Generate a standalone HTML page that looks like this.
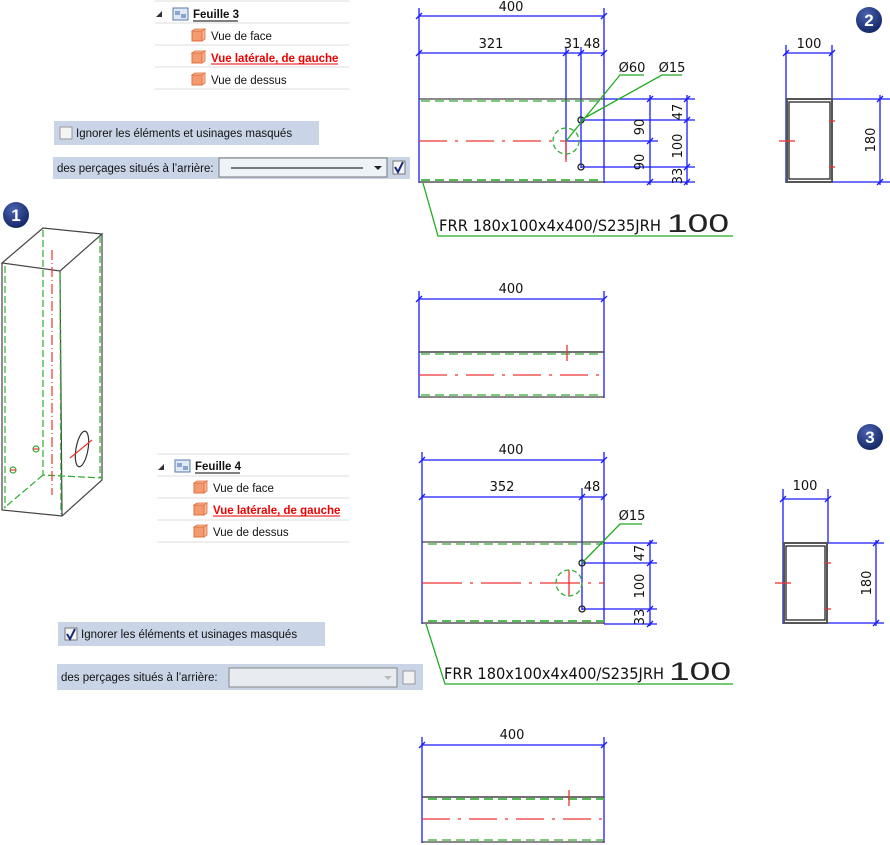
<!DOCTYPE html>
<html><head><meta charset="utf-8"><style>
body{margin:0;width:890px;height:845px;background:#fff;overflow:hidden;position:relative;font-family:"Liberation Sans",sans-serif}
svg{position:absolute;left:0;top:0}
.t{font-family:"DejaVu Sans","Liberation Sans",sans-serif;font-size:12px;fill:#111}
.ui{font-family:"Liberation Sans",sans-serif;font-size:11.5px;fill:#111}
.big{font-family:"Liberation Sans",sans-serif;font-size:25px;fill:#222}
</style></head><body>
<svg width="890" height="845" viewBox="0 0 890 845">
<defs>
<g id="cube"><rect x="0" y="2" width="10" height="10" fill="#f39a70" stroke="#e0703f"/><path d="M0 2 L3 0 L13 0 L10 2 Z M10 2 L13 0 L13 10 L10 12 Z" fill="#f7b898" stroke="#e0703f" stroke-width=".8"/></g>
<g id="sheet"><rect x="0" y="0" width="15" height="12" fill="#dfe8f5" stroke="#5a7aa8"/><rect x="2" y="3" width="5" height="4" fill="#8aa6d0"/><rect x="8" y="6" width="5" height="4" fill="#8aa6d0"/></g>
<radialGradient id="bg" cx=".4" cy=".3" r=".8"><stop offset="0" stop-color="#4a63b0"/><stop offset="1" stop-color="#0d1f5c"/></radialGradient>
</defs>

<!-- Tree Feuille 3 -->
<g stroke="#ddd"><line x1="155" y1="1" x2="349" y2="1"/><line x1="155" y1="23" x2="349" y2="23"/><line x1="155" y1="45" x2="349" y2="45"/><line x1="155" y1="67" x2="349" y2="67"/><line x1="155" y1="89" x2="349" y2="89"/></g>
<path d="M156 17 L162 11 L162 17 Z" fill="#333"/>
<use href="#sheet" x="173" y="8"/>
<text class="ui" x="193" y="18" font-weight="bold">Feuille 3</text><line x1="193" y1="21" x2="238" y2="21" stroke="#000"/>
<use href="#cube" x="192" y="29"/><text class="ui" x="211" y="40">Vue de face</text>
<use href="#cube" x="192" y="51"/><text class="ui" x="211" y="62" style="fill:#e00;font-weight:bold">Vue latérale, de gauche</text><line x1="211" y1="64" x2="338" y2="64" stroke="#e00"/>
<use href="#cube" x="192" y="73"/><text class="ui" x="211" y="84">Vue de dessus</text>

<!-- panels 3 -->
<rect x="54" y="121" width="265" height="24" fill="#c9d5e7"/>
<rect x="60" y="127" width="12" height="12" fill="#f4f4f4" stroke="#999"/>
<text class="ui" x="76" y="137">Ignorer les éléments et usinages masqués</text>
<rect x="53" y="157" width="357" height="22" fill="#c9d5e7"/>
<text class="ui" x="57" y="172">des perçages situés à l’arrière:</text>
<rect x="219" y="158" width="168" height="19" fill="#eef3fa" stroke="#777"/>
<line x1="231" y1="168" x2="363" y2="168" stroke="#000"/>
<path d="M374 166 L382 166 L378 170 Z" fill="#222"/>
<rect x="393" y="161" width="12" height="13" fill="#f4f4f4" stroke="#777"/>
<path d="M395 167 L398 172 L403 162" stroke="#1a2a7a" stroke-width="2" fill="none"/>

<!-- Tree Feuille 4 -->
<g stroke="#ddd"><line x1="157" y1="454" x2="349" y2="454"/><line x1="157" y1="476" x2="349" y2="476"/><line x1="157" y1="498" x2="349" y2="498"/><line x1="157" y1="520" x2="349" y2="520"/><line x1="157" y1="542" x2="349" y2="542"/></g>
<path d="M158 470 L164 464 L164 470 Z" fill="#333"/>
<use href="#sheet" x="175" y="460"/>
<text class="ui" x="195" y="470" font-weight="bold">Feuille 4</text><line x1="195" y1="473" x2="240" y2="473" stroke="#000"/>
<use href="#cube" x="194" y="481"/><text class="ui" x="213" y="492">Vue de face</text>
<use href="#cube" x="194" y="503"/><text class="ui" x="213" y="514" style="fill:#e00;font-weight:bold">Vue latérale, de gauche</text><line x1="213" y1="516" x2="340" y2="516" stroke="#e00"/>
<use href="#cube" x="194" y="525"/><text class="ui" x="213" y="536">Vue de dessus</text>

<!-- panels 4 -->
<rect x="58" y="622" width="267" height="24" fill="#c9d5e7"/>
<rect x="65" y="628" width="12" height="12" fill="#f4f4f4" stroke="#777"/>
<path d="M67 634 L70 639 L75 629" stroke="#1a2a7a" stroke-width="2" fill="none"/>
<text class="ui" x="81" y="638">Ignorer les éléments et usinages masqués</text>
<rect x="57" y="664" width="366" height="26" fill="#c9d5e7"/>
<text class="ui" x="61" y="681">des perçages situés à l’arrière:</text>
<rect x="229" y="668" width="168" height="19" fill="#e8ebef" stroke="#888"/>
<path d="M384 676 L392 676 L388 680 Z" fill="#bbb"/>
<rect x="403" y="671" width="12" height="13" fill="#f2f2f2" stroke="#999"/>

<!-- badges -->
<g font-family="Liberation Sans" font-weight="bold" font-size="17" fill="#fff" text-anchor="middle">
<circle cx="16" cy="215" r="13" fill="url(#bg)"/><text x="16" y="221">1</text>
<circle cx="869" cy="20" r="13" fill="url(#bg)"/><text x="869" y="26">2</text>
<circle cx="870" cy="437" r="13" fill="url(#bg)"/><text x="870" y="443">3</text>
</g>

<!-- 3D box -->
<g fill="none" stroke-width="1.2">
<path d="M2 263 L43 228 L102 234 L60 271 Z M2 263 L2 510 L62 516 L102 480 L102 234 M60 271 L62 516" stroke="#444"/>
<path d="M5 266 L5 508 M43 230 L43 475 L102 478 M43 475 L4 508 M60 273 L61 514 M100 236 L100 478" stroke="#3a3" stroke-dasharray="7,3"/>
<path d="M52 250 L52 495" stroke="#e33" stroke-dasharray="10,3,1,3"/>
<ellipse cx="82" cy="449" rx="6" ry="18" stroke="#333" transform="rotate(10 82 449)"/>
<line x1="70" y1="458" x2="92" y2="440" stroke="#e33"/>
<circle cx="36" cy="449" r="3" stroke="#3a3"/><line x1="33" y1="449" x2="39" y2="449" stroke="#e33"/>
<circle cx="13" cy="470" r="3" stroke="#3a3"/><line x1="10" y1="470" x2="16" y2="470" stroke="#e33"/>
</g>

<!-- Drawing 1 -->
<g fill="none" stroke-width="1.3">
<g stroke="#1a1aff">
<line x1="419" y1="8" x2="419" y2="183"/><line x1="604" y1="8" x2="604" y2="183"/>
<line x1="419" y1="16" x2="604" y2="16"/><line x1="419" y1="53" x2="604" y2="53"/>
<line x1="566" y1="47" x2="566" y2="159"/><line x1="581" y1="47" x2="581" y2="168"/>
<line x1="604" y1="99" x2="695" y2="99"/><line x1="581" y1="120" x2="695" y2="120"/><line x1="566" y1="141" x2="658" y2="141"/><line x1="581" y1="167" x2="695" y2="167"/><line x1="604" y1="182" x2="695" y2="182"/>
<line x1="650" y1="95" x2="650" y2="185"/><line x1="687" y1="95" x2="687" y2="185"/>
<path d="M416 19 L422 13 M601 19 L607 13 M416 56 L422 50 M563 56 L569 50 M578 56 L584 50 M601 56 L607 50 M647 102 L653 96 M647 144 L653 138 M647 185 L653 179 M684 102 L690 96 M684 123 L690 117 M684 170 L690 164 M684 185 L690 179"/>
</g>
<line x1="419" y1="99" x2="604" y2="99" stroke="#444"/>
<line x1="421" y1="101" x2="604" y2="101" stroke="#3a3" stroke-dasharray="9,5"/>
<line x1="419" y1="182" x2="604" y2="182" stroke="#555" stroke-width="1.5"/>
<line x1="421" y1="180" x2="604" y2="180" stroke="#5b5" stroke-width="2" stroke-dasharray="9,5"/>
<line x1="419" y1="141" x2="566" y2="141" stroke="#e33" stroke-dasharray="28,8,3,8"/>
<line x1="566" y1="141" x2="566" y2="162" stroke="#e33"/>
<circle cx="566" cy="141" r="13" stroke="#3a3" stroke-dasharray="5,3"/>
<circle cx="581" cy="120" r="3" stroke="#222"/><circle cx="581" cy="167" r="3" stroke="#222"/>
<path d="M566 141 L620 75 L644 75 M581 120 L662 75 L682 75 M423 183 L438 236 L733 236" stroke="#2a2"/>
</g>
<g class="t" text-anchor="middle" style="font-size:13px">
<text x="511" y="11">400</text><text x="491" y="48">321</text><text x="572" y="48">31</text><text x="592" y="48">48</text>
<text x="632" y="72">Ø60</text><text x="672" y="72">Ø15</text>
<text transform="translate(644 127) rotate(-90)">90</text><text transform="translate(644 162) rotate(-90)">90</text>
<text transform="translate(682 112) rotate(-90)">47</text><text transform="translate(682 146) rotate(-90)">100</text><text transform="translate(682 176) rotate(-90)">33</text>
</g>
<text class="t" x="439" y="231" style="font-size:16px" textLength="222" lengthAdjust="spacingAndGlyphs">FRR 180x100x4x400/S235JRH</text>
<text class="big" x="667" y="232" textLength="62" lengthAdjust="spacingAndGlyphs">100</text>

<!-- Side view 2 -->
<g fill="none" stroke-width="1.3">
<g stroke="#1a1aff"><line x1="786" y1="45" x2="786" y2="183"/><line x1="832" y1="45" x2="832" y2="99"/><line x1="786" y1="53" x2="832" y2="53"/><line x1="832" y1="99" x2="890" y2="99"/><line x1="832" y1="182" x2="890" y2="182"/><line x1="880" y1="95" x2="880" y2="185"/>
<path d="M783 56 L789 50 M829 56 L835 50 M877 102 L883 96 M877 185 L883 179"/></g>
<rect x="787" y="99" width="45" height="83" stroke="#555" stroke-width="2"/>
<rect x="789" y="102" width="41" height="77" stroke="#222"/>
<line x1="779" y1="141" x2="795" y2="141" stroke="#e33"/>
<line x1="829" y1="121" x2="835" y2="121" stroke="#e33"/><line x1="829" y1="167" x2="835" y2="167" stroke="#e33"/>
</g>
<text class="t" x="809" y="48" text-anchor="middle" style="font-size:13px">100</text>
<text class="t" transform="translate(875 140) rotate(-90)" text-anchor="middle" style="font-size:13px">180</text>

<!-- Drawing 3 -->
<g fill="none" stroke-width="1.3">
<g stroke="#1a1aff"><line x1="419" y1="291" x2="419" y2="398"/><line x1="604" y1="291" x2="604" y2="398"/><line x1="419" y1="299" x2="604" y2="299"/><path d="M416 302 L422 296 M601 302 L607 296"/></g>
<line x1="419" y1="352" x2="604" y2="352" stroke="#444" stroke-width="1.5"/>
<line x1="421" y1="354" x2="604" y2="354" stroke="#3a3" stroke-dasharray="9,5"/>
<line x1="419" y1="375" x2="604" y2="375" stroke="#e33" stroke-dasharray="28,8,3,8"/>
<line x1="567" y1="345" x2="567" y2="361" stroke="#e33"/>
<line x1="419" y1="397" x2="604" y2="397" stroke="#444"/>
<line x1="421" y1="395" x2="604" y2="395" stroke="#3a3" stroke-dasharray="9,5"/>
</g>
<text class="t" x="511" y="293" text-anchor="middle" style="font-size:13px">400</text>

<!-- Drawing 4 -->
<g fill="none" stroke-width="1.3">
<g stroke="#1a1aff">
<line x1="422" y1="452" x2="422" y2="624"/><line x1="604" y1="452" x2="604" y2="624"/>
<line x1="422" y1="460" x2="604" y2="460"/><line x1="422" y1="497" x2="604" y2="497"/>
<line x1="582" y1="488" x2="582" y2="610"/>
<line x1="604" y1="543" x2="657" y2="543"/><line x1="582" y1="563" x2="657" y2="563"/><line x1="582" y1="609" x2="657" y2="609"/><line x1="604" y1="624" x2="657" y2="624"/>
<line x1="650" y1="540" x2="650" y2="626"/>
<path d="M419 463 L425 457 M601 463 L607 457 M419 500 L425 494 M579 500 L585 494 M601 500 L607 494 M647 546 L653 540 M647 566 L653 560 M647 612 L653 606 M647 627 L653 621"/>
</g>
<line x1="422" y1="542" x2="604" y2="542" stroke="#444"/>
<line x1="428" y1="544" x2="604" y2="544" stroke="#3a3" stroke-dasharray="9,5"/>
<line x1="422" y1="623" x2="604" y2="623" stroke="#555" stroke-width="1.5"/>
<line x1="428" y1="621" x2="604" y2="621" stroke="#5b5" stroke-width="2" stroke-dasharray="9,5"/>
<line x1="422" y1="583" x2="604" y2="583" stroke="#e33" stroke-dasharray="40,8,3,8"/>
<line x1="569" y1="570" x2="569" y2="596" stroke="#e33"/>
<circle cx="569" cy="583" r="13" stroke="#3a3" stroke-dasharray="5,3"/>
<circle cx="582" cy="563" r="3" stroke="#222"/><circle cx="582" cy="609" r="3" stroke="#222"/>
<path d="M582 563 L620 524 L642 524 M426 624 L445 684 L733 684" stroke="#2a2"/>
</g>
<g class="t" text-anchor="middle" style="font-size:13px">
<text x="511" y="454">400</text><text x="502" y="491">352</text><text x="592" y="491">48</text><text x="632" y="520">Ø15</text>
<text transform="translate(644 553) rotate(-90)">47</text><text transform="translate(644 586) rotate(-90)">100</text><text transform="translate(644 617) rotate(-90)">33</text>
</g>
<text class="t" x="444" y="679" style="font-size:16px" textLength="220" lengthAdjust="spacingAndGlyphs">FRR 180x100x4x400/S235JRH</text>
<text class="big" x="669" y="680" textLength="62" lengthAdjust="spacingAndGlyphs">100</text>

<!-- Side view 3 -->
<g fill="none" stroke-width="1.3">
<g stroke="#1a1aff"><line x1="783" y1="489" x2="783" y2="624"/><line x1="828" y1="489" x2="828" y2="543"/><line x1="783" y1="499" x2="828" y2="499"/><line x1="828" y1="543" x2="884" y2="543"/><line x1="828" y1="623" x2="884" y2="623"/><line x1="876" y1="540" x2="876" y2="626"/>
<path d="M780 502 L786 496 M825 502 L831 496 M873 546 L879 540 M873 626 L879 620"/></g>
<rect x="784" y="543" width="43" height="80" stroke="#555" stroke-width="2"/>
<rect x="786" y="546" width="39" height="74" stroke="#222"/>
<line x1="775" y1="583" x2="791" y2="583" stroke="#e33"/>
<line x1="825" y1="563" x2="831" y2="563" stroke="#e33"/><line x1="825" y1="609" x2="831" y2="609" stroke="#e33"/>
</g>
<text class="t" x="805" y="490" text-anchor="middle" style="font-size:13px">100</text>
<text class="t" transform="translate(871 583) rotate(-90)" text-anchor="middle" style="font-size:13px">180</text>

<!-- Drawing 5 -->
<g fill="none" stroke-width="1.3">
<g stroke="#1a1aff"><line x1="422" y1="737" x2="422" y2="843"/><line x1="604" y1="737" x2="604" y2="843"/><line x1="422" y1="745" x2="604" y2="745"/><path d="M419 748 L425 742 M601 748 L607 742"/></g>
<line x1="422" y1="797" x2="604" y2="797" stroke="#444" stroke-width="1.5"/>
<line x1="428" y1="799" x2="604" y2="799" stroke="#5b5" stroke-width="2" stroke-dasharray="9,5"/>
<line x1="422" y1="819" x2="604" y2="819" stroke="#e33" stroke-dasharray="28,8,3,8"/>
<line x1="569" y1="790" x2="569" y2="806" stroke="#e33"/>
<line x1="422" y1="842" x2="604" y2="842" stroke="#444"/>
<line x1="428" y1="840" x2="604" y2="840" stroke="#3a3" stroke-dasharray="9,5"/>
</g>
<text class="t" x="512" y="739" text-anchor="middle" style="font-size:13px">400</text>
</svg>
</body></html>
